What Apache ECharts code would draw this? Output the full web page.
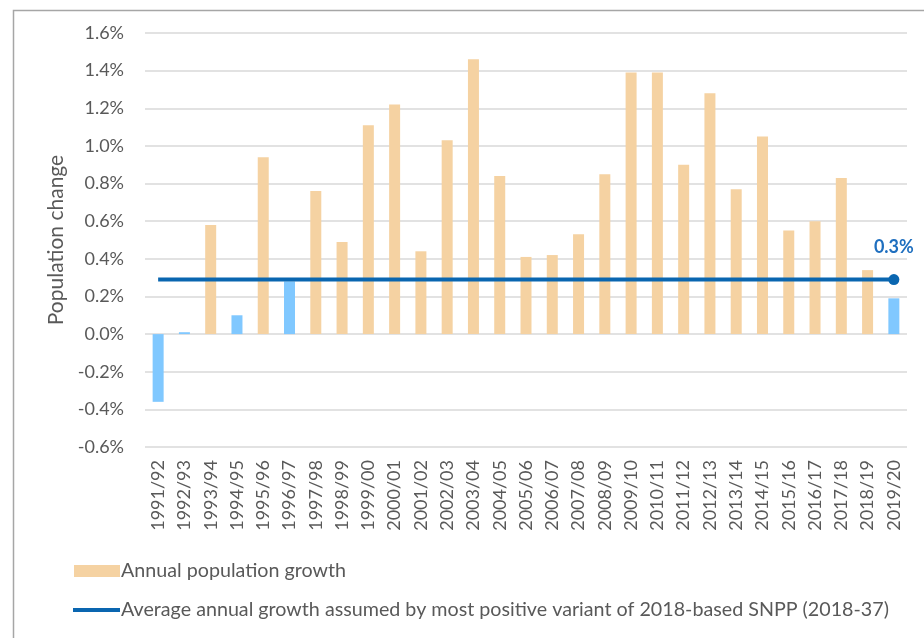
<!DOCTYPE html>
<html>
<head>
<meta charset="utf-8">
<script src="https://cdn.jsdelivr.net/npm/echarts@6/dist/echarts.min.js"></script>
<style>
html,body{margin:0;padding:0;background:#fff;}
#chart{width:924px;height:638px;}
</style>
</head>
<body>
<div id="chart"></div>
<script>
const categories = ['1991/92','1992/93','1993/94','1994/95','1995/96','1996/97','1997/98','1998/99','1999/00','2000/01','2001/02','2002/03','2003/04','2004/05','2005/06','2006/07','2007/08','2008/09','2009/10','2010/11','2011/12','2012/13','2013/14','2014/15','2015/16','2016/17','2017/18','2018/19','2019/20'];
const growthValues = [-0.36,0.01,0.58,0.10,0.94,0.28,0.76,0.49,1.11,1.22,0.44,1.03,1.46,0.84,0.41,0.42,0.53,0.85,1.39,1.39,0.90,1.28,0.77,1.05,0.55,0.60,0.83,0.34,0.19];
const avgGrowth = 0.29;
const yTicks = {min:-0.6, max:1.6, interval:0.2};
const seriesNames = ['Annual population growth','Average annual growth assumed by most positive variant of 2018-based SNPP (2018-37)'];

const FONT = 'Lato';
const ORANGE = '#F5D2A2';
const LIGHTBLUE = '#80C8FF';
const DARKBLUE = '#0A66B0';

const chart = echarts.init(document.getElementById('chart'), null, {renderer:'canvas'});
const avgLine = categories.map(() => avgGrowth);
const last = categories.length - 1;

chart.setOption({
  animation:false,
  backgroundColor:'#fff',
  graphic:[{type:'rect', left:11, top:8, shape:{width:960, height:700}, style:{fill:'none', stroke:'#A6A6A6', lineWidth:1.5}, z:-1}],
  grid:{left:145, right:17, top:33, bottom:191, containLabel:false},
  legend:[
    {data:[{name:seriesNames[0], icon:'rect'}], orient:'vertical', left:69, top:556, itemWidth:46, itemHeight:12, itemGap:4,
     textStyle:{fontFamily:FONT, fontSize:19.7, color:'#595959', padding:[0,0,0,-4]}},
    {data:[{name:seriesNames[1], icon:'rect'}], orient:'vertical', left:68, top:595, itemWidth:47, itemHeight:4, itemGap:4,
     textStyle:{fontFamily:FONT, fontSize:19.7, color:'#595959', padding:[0,0,0,-4]}}
  ],
  xAxis:{type:'category', data:categories, boundaryGap:true,
    axisLine:{show:false}, axisTick:{show:false},
    axisLabel:{rotate:90, margin:13, fontFamily:FONT, fontSize:18, color:'#595959', interval:0}},
  yAxis:{type:'value', min:yTicks.min, max:yTicks.max, interval:yTicks.interval,
    name:'Population change', nameLocation:'middle', nameGap:78, nameRotate:90,
    nameTextStyle:{fontFamily:FONT, fontSize:21, color:'#595959'},
    axisLabel:{margin:21, fontFamily:FONT, fontSize:18, color:'#595959', formatter:v => v.toFixed(1) + '%'},
    splitLine:{lineStyle:{color:'#D9D9D9', width:1.5}}, axisLine:{show:false}, axisTick:{show:false}},
  series:[
    {name:seriesNames[0], type:'bar', data:growthValues, barWidth:11,
     itemStyle:{color:p => p.value < avgGrowth ? LIGHTBLUE : ORANGE}, color:ORANGE},
    {name:seriesNames[1], type:'line', data:avgLine, color:DARKBLUE,
     lineStyle:{width:4, color:DARKBLUE}, symbol:'circle', showSymbol:true,
     symbolSize:(v, p) => p.dataIndex === last ? 11 : 0,
     itemStyle:{color:DARKBLUE},
     label:{show:true, position:'top', distance:18, fontFamily:FONT, fontWeight:'bold', fontSize:18, color:'#1F6FBF',
       formatter:p => p.dataIndex === last ? (Math.round(p.value*10)/10).toFixed(1) + '%' : ''}}
  ]
});
</script>
</body>
</html>
